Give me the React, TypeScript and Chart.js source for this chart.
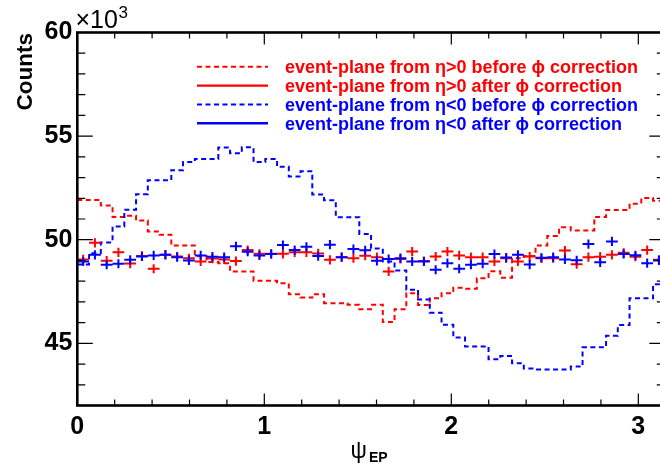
import React, { useEffect, useRef } from "react";
import { Chart, registerables } from "chart.js";

Chart.register(...registerables);

// ---- axis / binning ----
const NBINS = 50;
const X_MIN = 0;
const X_MAX = Math.PI;
const Y_MIN = 42;
const Y_MAX = 60;
const binEdges = Array.from({ length: NBINS + 1 }, (_, k) => X_MIN + (k * (X_MAX - X_MIN)) / NBINS);

const xTickLabels = [0, 1, 2, 3];
const yTickLabels = [45, 50, 55, 60];

// ---- data (counts, in units of 10^3) ----
const etaPosBefore = [
  51.92, 51.92, 51.65, 51.1, 51.16, 50.93, 50.4, 50.24, 49.72, 49.72,
  49.2, 48.93, 48.87, 48.47, 48.47, 48.02, 48.02, 47.9, 47.37, 47.21,
  47.37, 46.94, 46.94, 46.86, 46.65, 46.86, 46.03, 46.65, 47.42, 46.85,
  47.18, 47.42, 47.68, 47.64, 48.14, 48.48, 48.17, 49.1, 49.22, 49.72,
  50.18, 50.6, 50.44, 50.44, 51.1, 51.43, 51.43, 51.74, 52.01, 51.88,
];
const etaPosAfter = [
  49.05, 49.85, 48.99, 49.39, 48.85, 49.22, 48.6, 49.27, 49.19, 49.1,
  48.95, 49.09, 49.05, 48.97, 49.5, 49.32, 49.32, 49.32, 49.39, 49.39,
  49.34, 49.03, 49.16, 49.11, 49.23, 49.16, 48.47, 49.07, 49.43, 48.97,
  49.19, 49.43, 49.24, 49.16, 49.16, 48.95, 49.11, 48.95, 49.19, 49.1,
  49.11, 49.48, 48.82, 49.16, 49.18, 49.27, 49.37, 49.18, 49.5, 49.03,
];
const etaNegBefore = [
  48.8, 49.35, 49.87, 50.64, 51.45, 52.19, 52.87, 52.87, 53.35, 53.75,
  53.9, 53.9, 54.45, 54.17, 54.46, 53.75, 53.9, 53.52, 53.05, 53.3,
  52.18, 51.9, 51.08, 51.08, 50.28, 49.58, 48.95, 48.52, 47.59, 47.11,
  46.48, 45.9, 45.28, 44.85, 44.85, 44.23, 44.39, 44.04, 43.78, 43.74,
  43.74, 43.74, 43.88, 44.81, 44.81, 45.36, 45.88, 47.17, 47.17, 47.85,
];
const etaNegAfter = [
  48.95, 49.27, 48.79, 48.84, 49.03, 49.19, 49.24, 49.28, 49.16, 49.0,
  49.24, 49.18, 49.16, 49.68, 49.42, 49.24, 49.31, 49.74, 49.5, 49.66,
  49.21, 49.76, 49.16, 49.55, 49.49, 48.98, 49.07, 49.11, 48.95, 48.95,
  48.55, 48.87, 48.6, 48.79, 48.84, 49.31, 49.14, 49.27, 48.8, 49.13,
  49.16, 49.05, 49.01, 49.79, 48.91, 49.92, 49.31, 49.25, 48.87, 49.0,
];

const seriesLabels = [
  "event-plane from \u03b7>0 before \u03d5 correction",
  "event-plane from \u03b7>0 after \u03d5 correction",
  "event-plane from \u03b7<0 before \u03d5 correction",
  "event-plane from \u03b7<0 after \u03d5 correction",
];
const seriesColors = ["#ff0000", "#ff0000", "#0000ff", "#0000ff"];
const seriesDashed = [true, false, true, false];

const FONT = "'Liberation Sans', Arial, Helvetica, sans-serif";
const DASH = [5, 3.5];

function stepData(vals: number[]) {
  const pts = vals.map((v, k) => ({ x: binEdges[k], y: v }));
  pts.push({ x: binEdges[NBINS], y: vals[NBINS - 1] });
  return pts;
}

function crossData(vals: number[]) {
  const pts: { x: number; y: number | null }[] = [];
  vals.forEach((v, k) => {
    const e = Math.sqrt(v * 1000) / 1000;
    const c = (binEdges[k] + binEdges[k + 1]) / 2;
    pts.push({ x: binEdges[k], y: v }, { x: binEdges[k + 1], y: v }, { x: binEdges[k + 1], y: null });
    pts.push({ x: c, y: v - e }, { x: c, y: v + e }, { x: c, y: null });
  });
  return pts;
}

const framePlugin = {
  id: "rootFrame",
  afterDraw(chart: any) {
    const { ctx, chartArea: a, scales } = chart;
    const xs = scales.x;
    const ys = scales.y;
    ctx.save();
    ctx.strokeStyle = "#000";
    // ticks
    ctx.lineWidth = 1.2;
    ctx.beginPath();
    for (let i = 0; i <= Math.floor(X_MAX / 0.2 + 1e-9); i++) {
      const v = i * 0.2;
      const major = Math.abs(v - Math.round(v)) < 1e-6;
      const px = xs.getPixelForValue(v);
      const len = major ? 12 : 6;
      ctx.moveTo(px, a.bottom);
      ctx.lineTo(px, a.bottom - len);
      ctx.moveTo(px, a.top);
      ctx.lineTo(px, a.top + len);
    }
    for (let v = Y_MIN; v <= Y_MAX; v++) {
      const major = v % 5 === 0;
      const py = ys.getPixelForValue(v);
      const len = major ? 15.5 : 8;
      ctx.moveTo(a.left, py);
      ctx.lineTo(a.left + len, py);
      ctx.moveTo(a.right, py);
      ctx.lineTo(a.right - len, py);
    }
    ctx.stroke();
    // frame
    ctx.lineWidth = 2.6;
    ctx.strokeRect(a.left, a.top, a.right - a.left, a.bottom - a.top);

    // legend
    const rowY = [66.7, 85.6, 104.4, 123.2];
    for (let i = 0; i < 4; i++) {
      ctx.beginPath();
      ctx.strokeStyle = seriesColors[i];
      ctx.lineWidth = seriesDashed[i] ? 2 : 2.4;
      ctx.setLineDash(seriesDashed[i] ? DASH : []);
      ctx.moveTo(197, rowY[i]);
      ctx.lineTo(268, rowY[i]);
      ctx.stroke();
      ctx.setLineDash([]);
      ctx.fillStyle = seriesColors[i];
      ctx.font = `bold 18px ${FONT}`;
      ctx.textAlign = "left";
      ctx.textBaseline = "alphabetic";
      ctx.fillText(seriesLabels[i], 285, rowY[i] + 6.3);
    }

    // axis titles and exponent
    ctx.fillStyle = "#000";
    ctx.font = `25px ${FONT}`;
    ctx.textAlign = "left";
    ctx.fillText("\u00d710", 75.5, 28.3);
    ctx.font = `17px ${FONT}`;
    ctx.fillText("3", 118.5, 18.3);

    ctx.save();
    ctx.translate(31.6, 33);
    ctx.rotate(-Math.PI / 2);
    ctx.font = `bold 22.5px ${FONT}`;
    ctx.textAlign = "right";
    ctx.fillText("Counts", 0, 0);
    ctx.restore();

    ctx.font = `23px ${FONT}`;
    ctx.textAlign = "left";
    ctx.fillText("\u03c8", 350.5, 457.5);
    ctx.font = `bold 14px ${FONT}`;
    ctx.fillText("EP", 369, 461.7);
    ctx.restore();
  },
};

export default function App() {
  const ref = useRef<HTMLCanvasElement | null>(null);
  useEffect(() => {
    if (!ref.current) return;
    const chart = new Chart(ref.current, {
      type: "scatter",
      data: {
        datasets: [
          {
            label: seriesLabels[0],
            data: stepData(etaPosBefore),
            showLine: true,
            stepped: "before",
            borderColor: seriesColors[0],
            borderWidth: 2,
            borderDash: DASH,
            pointRadius: 0,
            fill: false,
            order: 4,
          },
          {
            label: seriesLabels[2],
            data: stepData(etaNegBefore),
            showLine: true,
            stepped: "before",
            borderColor: seriesColors[2],
            borderWidth: 2,
            borderDash: DASH,
            pointRadius: 0,
            fill: false,
            order: 3,
          },
          {
            label: seriesLabels[1],
            data: crossData(etaPosAfter),
            showLine: true,
            spanGaps: false,
            borderColor: seriesColors[1],
            borderWidth: 2,
            pointRadius: 0,
            fill: false,
            order: 2,
          },
          {
            label: seriesLabels[3],
            data: crossData(etaNegAfter),
            showLine: true,
            spanGaps: false,
            borderColor: seriesColors[3],
            borderWidth: 2,
            pointRadius: 0,
            fill: false,
            order: 1,
          },
        ] as any,
      },
      options: {
        responsive: false,
        animation: false,
        events: [],
        layout: { padding: { left: 0, top: 32.5, right: 680 - 664.8, bottom: 0 } },
        plugins: { legend: { display: false }, tooltip: { enabled: false } },
        scales: {
          x: {
            type: "linear",
            min: X_MIN,
            max: X_MAX,
            grid: { display: false, drawTicks: false },
            border: { display: false },
            afterBuildTicks: (s: any) => {
              s.ticks = xTickLabels.map((v) => ({ value: v }));
            },
            afterFit: (s: any) => {
              s.height = 467 - 405.5;
            },
            ticks: {
              color: "#000",
              padding: 7,
              maxRotation: 0,
              font: { family: FONT, size: 25, weight: "bold" },
              callback: (v: any) => String(v),
            },
          },
          y: {
            type: "linear",
            min: Y_MIN,
            max: Y_MAX,
            grid: { display: false, drawTicks: false },
            border: { display: false },
            afterBuildTicks: (s: any) => {
              s.ticks = yTickLabels.map((v) => ({ value: v }));
            },
            afterFit: (s: any) => {
              s.width = 77.3;
            },
            ticks: {
              color: "#000",
              padding: 5,
              font: { family: FONT, size: 25, weight: "bold" },
              callback: (v: any) => String(v),
            },
          },
        },
      } as any,
      plugins: [framePlugin],
    });
    return () => chart.destroy();
  }, []);

  return (
    <div
      style={{
        position: "fixed",
        left: 0,
        top: 0,
        width: 660,
        height: 467,
        overflow: "hidden",
        background: "#fff",
      }}
    >
      <canvas ref={ref} width={680} height={467} style={{ width: 680, height: 467, display: "block" }} />
    </div>
  );
}
